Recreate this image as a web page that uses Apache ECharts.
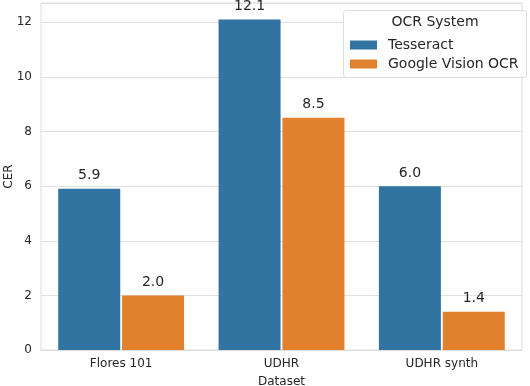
<!DOCTYPE html>
<html>
<head>
<meta charset="utf-8">
<script src="https://cdn.jsdelivr.net/npm/echarts@6/dist/echarts.min.js"></script>
<style>
  html, body { margin: 0; padding: 0; background: #fff; }
  #chart { width: 530px; height: 386px; }
</style>
</head>
<body>
<div id="chart"></div>
<script>
// 数据
var categories = ['Flores 101', 'UDHR', 'UDHR synth'];
var tesseract = [5.9, 12.1, 6.0];
var googleVision = [2.0, 8.5, 1.4];
var seriesNames = ['Tesseract', 'Google Vision OCR'];

var FONT = 'DejaVu Sans';
var TXT = '#262626';

var myChart = echarts.init(document.getElementById('chart'));

function labelOpt() {
  return {
    show: true,
    position: 'top',
    distance: 6,
    color: TXT,
    fontFamily: FONT,
    fontSize: 14,
    formatter: function (p) { return p.value.toFixed(1); }
  };
}

myChart.setOption({
  animation: false,
  grid: {
    left: 41, right: 8, top: 3, bottom: 36,
    containLabel: false,
    outerBoundsMode: 'none',
    show: true, borderColor: '#dddddd', borderWidth: 1
  },
  xAxis: {
    type: 'category',
    data: categories,
    name: 'Dataset',
    nameLocation: 'middle',
    nameGap: 26,
    nameTextStyle: { color: TXT, fontFamily: FONT, fontSize: 12 },
    axisLine: { show: true, lineStyle: { color: '#dddddd', width: 1 } },
    axisTick: { show: false },
    axisLabel: { color: TXT, fontFamily: FONT, fontSize: 12, margin: 8 },
    splitLine: { show: false }
  },
  yAxis: {
    type: 'value',
    min: 0,
    max: 12.705,
    interval: 2,
    name: 'CER',
    nameLocation: 'middle',
    nameGap: 26,
    nameMoveOverlap: false,
    nameTextStyle: { color: TXT, fontFamily: FONT, fontSize: 12 },
    axisLine: { show: false },
    axisTick: { show: false },
    axisLabel: { color: TXT, fontFamily: FONT, fontSize: 12, margin: 9, showMaxLabel: false },
    splitLine: { show: true, lineStyle: { color: '#e0e0e0', width: 1 } }
  },
  legend: {
    data: seriesNames,
    orient: 'vertical',
    z: 20,
    left: 345,
    top: 33,
    itemWidth: 27,
    itemHeight: 9,
    itemGap: 5,
    icon: 'rect',
    textStyle: { color: TXT, fontFamily: FONT, fontSize: 14, padding: [0, 0, 0, 6] }
  },
  graphic: [
    {
      type: 'rect',
      z: 5,
      shape: { x: 343.5, y: 10.5, width: 183, height: 67, r: 3 },
      style: { fill: 'rgba(255,255,255,0.85)', stroke: '#dddddd', lineWidth: 1 }
    },
    {
      type: 'text',
      z: 6,
      x: 435,
      y: 22,
      style: {
        text: 'OCR System',
        fill: TXT,
        font: '14px "DejaVu Sans"',
        align: 'center',
        verticalAlign: 'middle'
      }
    }
  ],
  series: [
    {
      name: seriesNames[0],
      type: 'bar',
      data: tesseract,
      barWidth: 62,
      barGap: '3%',
      itemStyle: { color: '#3274a1' },
      label: labelOpt()
    },
    {
      name: seriesNames[1],
      type: 'bar',
      data: googleVision,
      barWidth: 62,
      barGap: '3%',
      itemStyle: { color: '#e1812c' },
      label: labelOpt()
    }
  ]
});
window.onresize = function () { myChart.resize(); };
</script>
</body>
</html>
